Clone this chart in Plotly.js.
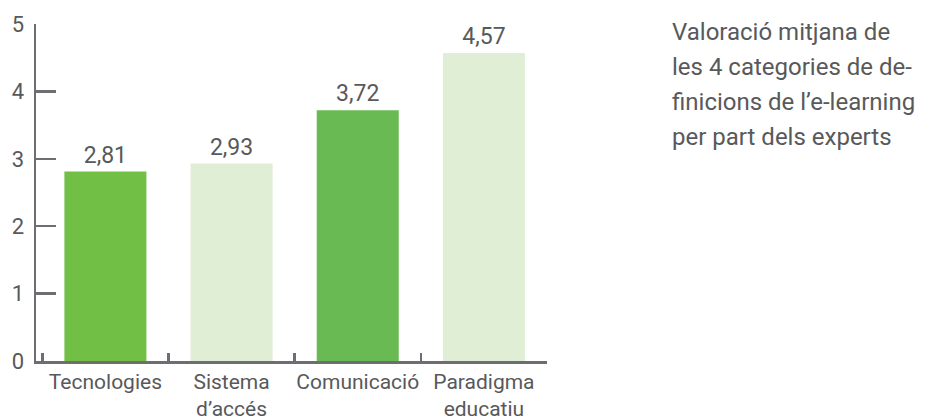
<!DOCTYPE html>
<html>
<head>
<meta charset="utf-8">
<script src="https://cdn.plot.ly/plotly-3.0.1.min.js"></script>
<style>html,body{margin:0;padding:0;background:#fff;}#chart{width:934px;height:416px;}</style>
</head>
<body>
<div id="chart"></div>
<script>
const categories = ["Tecnologies", "Sistema<br>d\u2019accés", "Comunicació", "Paradigma<br>educatiu"];
const values = [2.81, 2.93, 3.72, 4.57];
const barColors = ["#71bf44", "#e0eed6", "#6aba54", "#e0eed6"];
const yTicks = [0, 1, 2, 3, 4, 5];
const noteLines = ["Valoració mitjana de", "les 4 categories de de-", "finicions de l\u2019e-learning", "per part dels experts"];

const textColor = "#58595b";
const axisColor = "#6d6e71";
const fontFam = "Roboto, 'Noto Sans', sans-serif";

// plot area in pixels
const W = 934, H = 416;
const L = 36, R = 547, T = 24, B = 361.5;

function pyToPaper(py) { return (B - py) / (B - T); }
function pxToPaper(px) { return (px - L) / (R - L); }

const noteBaselines = [40, 75, 110, 145];
const annotations = noteLines.map((t, i) => ({
  text: t,
  xref: "paper", yref: "paper",
  x: pxToPaper(670), y: pyToPaper(noteBaselines[i] - 8),
  xanchor: "left", yanchor: "middle",
  showarrow: false,
  font: {family: fontFam, size: 24, color: textColor}
}));

const trace = {
  type: "bar",
  x: categories,
  y: values,
  marker: {color: barColors},
  width: 0.65,
  text: values.map(v => v.toFixed(2).replace(".", ",")),
  textposition: "outside",
  textfont: {family: fontFam, size: 23, color: textColor},
  cliponaxis: false,
  hoverinfo: "none"
};

const layout = {
  width: W, height: H,
  margin: {l: L, r: W - R, t: T, b: H - B, pad: 0},
  paper_bgcolor: "#ffffff",
  plot_bgcolor: "#ffffff",
  showlegend: false,
  font: {family: fontFam, color: textColor},
  xaxis: {
    type: "category",
    range: [-0.55, 3.5],
    tickson: "boundaries",
    ticks: "inside",
    ticklen: 8,
    tickwidth: 2.5,
    tickcolor: axisColor,
    showline: true,
    linecolor: axisColor,
    linewidth: 2.5,
    showgrid: false,
    zeroline: false,
    tickangle: 0,
    ticklabelstandoff: 0,
    tickfont: {family: fontFam, size: 21, color: textColor},
    fixedrange: true
  },
  yaxis: {
    range: [0, 5],
    tickvals: yTicks,
    ticktext: yTicks.map(String),
    ticks: "inside",
    ticklen: 20,
    tickwidth: 2.5,
    tickcolor: axisColor,
    showline: true,
    linecolor: axisColor,
    linewidth: 2.5,
    showgrid: false,
    zeroline: false,
    ticklabelstandoff: 5,
    tickfont: {family: fontFam, size: 22, color: textColor},
    fixedrange: true
  },
  annotations: annotations
};

Plotly.newPlot("chart", [trace], layout, {displayModeBar: false, staticPlot: true});
</script>
</body>
</html>
